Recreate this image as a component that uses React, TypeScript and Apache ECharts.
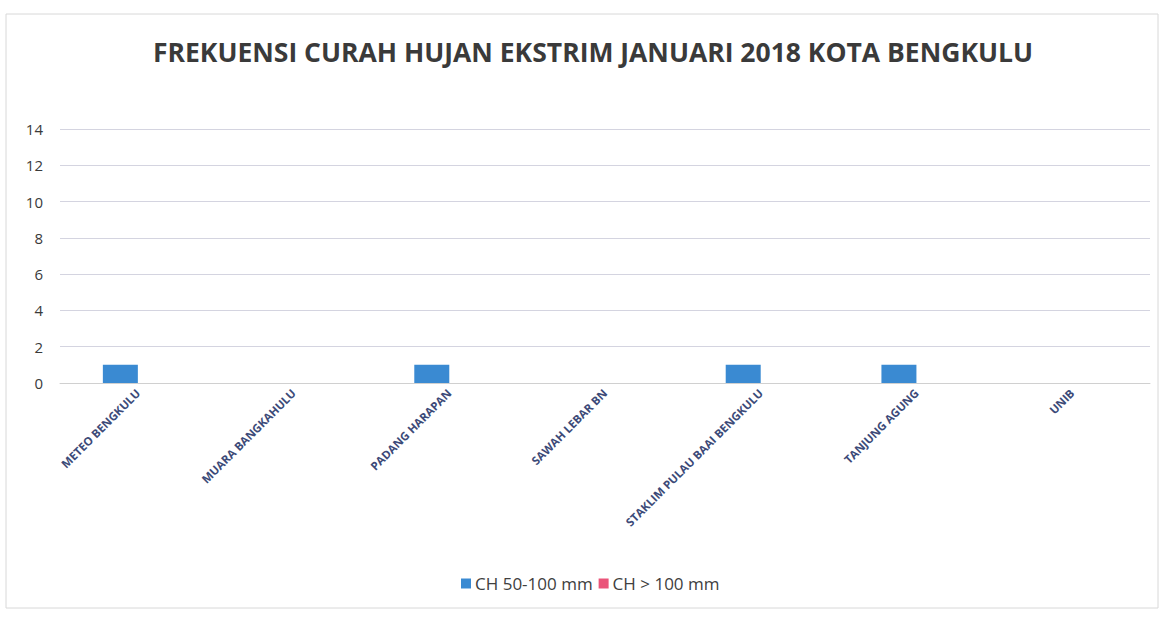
import React, { useEffect, useRef } from "react";
import * as echarts from "echarts";

const categories = [
  "METEO BENGKULU",
  "MUARA BANGKAHULU",
  "PADANG HARAPAN",
  "SAWAH LEBAR BN",
  "STAKLIM PULAU BAAI BENGKULU",
  "TANJUNG AGUNG",
  "UNIB",
];
const seriesNames = ["CH 50-100 mm", "CH > 100 mm"];
const ch50to100 = [1, 0, 1, 0, 1, 1, 0];
const chOver100 = [0, 0, 0, 0, 0, 0, 0];
const titleText = "FREKUENSI CURAH HUJAN EKSTRIM JANUARI 2018 KOTA BENGKULU";

export default function App() {
  const ref = useRef<HTMLDivElement>(null);
  useEffect(() => {
    if (!ref.current) return;
    const chart = echarts.init(ref.current, undefined, { renderer: "svg" });
    chart.setOption({
      animation: false,
      backgroundColor: "#ffffff",
      title: {
        text: titleText,
        left: 588,
        textAlign: "center",
        top: 33,
        textStyle: {
          fontFamily: "Open Sans",
          fontSize: 26.5,
          fontWeight: "bold",
          color: "#3a3a3a",
        },
      },
      legend: {
        bottom: 20,
        left: 456,
        itemWidth: 10,
        itemHeight: 10,
        itemGap: 6,
        icon: "rect",
        textStyle: { fontFamily: "Open Sans", fontSize: 17, color: "#404040", padding: [0, 0, 0, -1] },
        data: seriesNames,
      },
      graphic: [
        {
          type: "rect",
          shape: { x: 6, y: 14, width: 1152, height: 594 },
          style: { fill: "none", stroke: "#d8d8d8", lineWidth: 1 },
          silent: true,
        },
      ],
      grid: { left: 60, right: 16, top: 129, height: 254 },
      xAxis: {
        type: "category",
        data: categories,
        axisLine: { show: true, lineStyle: { color: "#d0d0d0" } },
        axisTick: { show: false },
        axisLabel: {
          rotate: 45,
          interval: 0,
          fontFamily: "Open Sans",
          fontSize: 11.5,
          fontWeight: "bold",
          color: "#3c4a78",
          margin: 8,
        },
      },
      yAxis: {
        type: "value",
        min: 0,
        max: 14,
        interval: 2,
        axisLine: { show: false },
        axisTick: { show: false },
        axisLabel: { fontFamily: "Open Sans", fontSize: 15, color: "#3a3a3a", margin: 17 },
        splitLine: { lineStyle: { color: "#d4d4e0" } },
      },
      series: [
        {
          name: seriesNames[0],
          type: "bar",
          data: ch50to100,
          barWidth: 35,
          barGap: "0%",
          itemStyle: { color: "#3a8ad2" },
        },
        {
          name: seriesNames[1],
          type: "bar",
          data: chOver100,
          barWidth: 35,
          barGap: "0%",
          itemStyle: { color: "#ea5479" },
        },
      ],
    });
    return () => chart.dispose();
  }, []);
  return (
    <div
      ref={ref}
      style={{ position: "fixed", left: 0, top: 0, width: 1166, height: 617 }}
    />
  );
}
